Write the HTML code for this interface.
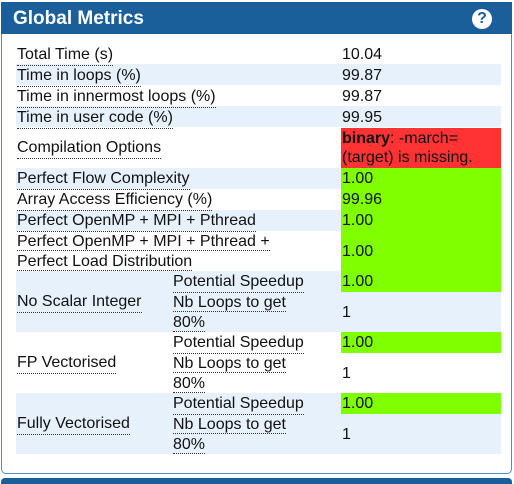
<!DOCTYPE html>
<html><head><meta charset="utf-8"><style>
body{margin:0;width:514px;height:482px;background:#fff;font-family:"Liberation Sans",sans-serif;position:relative;overflow:hidden}
#panel{position:absolute;left:1px;top:2px;width:509px;height:470px;border:1px solid #4a90c8;border-radius:0 0 5px 5px}
#hdr{position:absolute;left:1px;top:2px;width:511px;height:32px;background:#1a5f99;color:#fff;font-weight:bold;font-size:19px}
#hdr span{position:absolute;left:12px;top:6px}
#help{position:absolute;left:471px;top:7px;width:20px;height:20px;border-radius:50%;background:#fff;color:#1a5f99;font-size:16px;text-align:center;line-height:20px;font-weight:bold}
.r{position:absolute;left:16px;width:485px}
.s{background:#e6f1fb}
.t{position:absolute;font-size:16px;color:#111;line-height:20px;white-space:nowrap;margin-top:1px}
.u{border-bottom:1px dotted #333}
.g{position:absolute;left:341px;width:160px;background:#80ff00}
.red{position:absolute;left:341px;width:160px;background:#ff3333}
#bot{position:absolute;left:1px;top:478px;width:511px;height:6px;background:#1a5f99;border-radius:4px 4px 0 0}
</style></head><body>
<div id="panel"></div>
<div id="hdr"><span>Global Metrics</span><div id="help">?</div></div>

<div class="r s" style="top:64px;height:21px"></div>
<div class="r s" style="top:106px;height:21px"></div>
<div class="r s" style="top:168px;height:21px"></div>
<div class="r s" style="top:210px;height:21px"></div>
<div class="r s" style="top:271px;height:61px"></div>
<div class="r s" style="top:393px;height:61px"></div>

<div class="red" style="top:128px;height:40px"></div>
<div class="g" style="top:168px;height:63px"></div>
<div class="g" style="top:231px;height:61px"></div>
<div class="g" style="top:332px;height:21px"></div>
<div class="g" style="top:393px;height:21px"></div>

<div class="t u" style="left:17px;top:44px">Total Time (s)</div>
<div class="t" style="left:342px;top:44px">10.04</div>
<div class="t u" style="left:17px;top:65px">Time in loops (%)</div>
<div class="t" style="left:342px;top:65px">99.87</div>
<div class="t u" style="left:17px;top:86px">Time in innermost loops (%)</div>
<div class="t" style="left:342px;top:86px">99.87</div>
<div class="t u" style="left:17px;top:107px">Time in user code (%)</div>
<div class="t" style="left:342px;top:107px">99.95</div>
<div class="t u" style="left:17px;top:137px">Compilation Options</div>
<div class="t" style="left:342px;top:128px;line-height:19px"><b>binary</b>: -march=<br>(target) is missing.</div>
<div class="t u" style="left:17px;top:168px">Perfect Flow Complexity</div>
<div class="t" style="left:342px;top:168px">1.00</div>
<div class="t u" style="left:17px;top:189px">Array Access Efficiency (%)</div>
<div class="t" style="left:342px;top:189px">99.96</div>
<div class="t u" style="left:17px;top:210px">Perfect OpenMP + MPI + Pthread</div>
<div class="t" style="left:342px;top:210px">1.00</div>
<div class="t" style="left:17px;top:231px"><span class="u">Perfect OpenMP + MPI + Pthread +</span><br><span class="u">Perfect Load Distribution</span></div>
<div class="t" style="left:342px;top:241px">1.00</div>

<div class="t u" style="left:17px;top:291px">No Scalar Integer</div>
<div class="t u" style="left:173px;top:271px">Potential Speedup</div>
<div class="t" style="left:342px;top:271px">1.00</div>
<div class="t" style="left:173px;top:292px"><span class="u">Nb Loops to get</span><br><span class="u">80%</span></div>
<div class="t" style="left:342px;top:302px">1</div>

<div class="t u" style="left:17px;top:352px">FP Vectorised</div>
<div class="t u" style="left:173px;top:332px">Potential Speedup</div>
<div class="t" style="left:342px;top:332px">1.00</div>
<div class="t" style="left:173px;top:353px"><span class="u">Nb Loops to get</span><br><span class="u">80%</span></div>
<div class="t" style="left:342px;top:363px">1</div>

<div class="t u" style="left:17px;top:413px">Fully Vectorised</div>
<div class="t u" style="left:173px;top:393px">Potential Speedup</div>
<div class="t" style="left:342px;top:393px">1.00</div>
<div class="t" style="left:173px;top:414px"><span class="u">Nb Loops to get</span><br><span class="u">80%</span></div>
<div class="t" style="left:342px;top:424px">1</div>

<div id="bot"></div>
</body></html>
